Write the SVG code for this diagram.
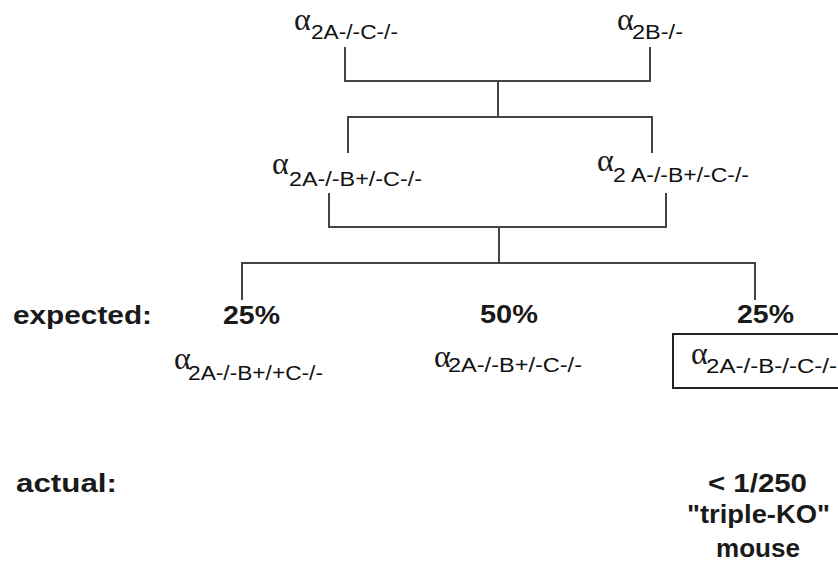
<svg xmlns="http://www.w3.org/2000/svg" width="838" height="570" viewBox="0 0 838 570">
<style>
.a{font-family:"Liberation Serif","DejaVu Serif",serif;font-size:32px;fill:#1a1a1a}
.s{font-family:"Liberation Sans",Arial,sans-serif;font-size:20px;fill:#111}
.b{font-family:"Liberation Sans",Arial,sans-serif;font-size:26px;font-weight:bold;fill:#1a1a1a}
.ln{fill:none;stroke:#444;stroke-width:2}
</style>
<rect width="838" height="570" fill="#fff"/>
<g id="connectors">
<path class="ln" d="M345,47V81H650V47M498,81V117M348,153V117H652V153"/>
<path class="ln" d="M329,193V227H666V193M499,227V263M242,300V263H755V300"/>
</g>
<g id="parent1"><text class="a" x="294" y="30">α</text><text class="s" x="311" y="39" textLength="87" lengthAdjust="spacingAndGlyphs">2A-/-C-/-</text></g>
<g id="parent2"><text class="a" x="617" y="30">α</text><text class="s" x="632" y="39" textLength="51" lengthAdjust="spacingAndGlyphs">2B-/-</text></g>
<g id="f1a"><text class="a" x="272" y="174">α</text><text class="s" x="289" y="186" textLength="133" lengthAdjust="spacingAndGlyphs">2A-/-B+/-C-/-</text></g>
<g id="f1b"><text class="a" x="597" y="171">α</text><text class="s" x="613" y="182" textLength="136" lengthAdjust="spacingAndGlyphs">2 A-/-B+/-C-/-</text></g>
<g id="labels">
<text class="b" x="13" y="324" textLength="139" lengthAdjust="spacingAndGlyphs">expected:</text>
<text class="b" x="16" y="492" textLength="101" lengthAdjust="spacingAndGlyphs">actual:</text>
</g>
<g id="g1"><text class="b" x="223" y="324" textLength="57" lengthAdjust="spacingAndGlyphs">25%</text><text class="a" x="174" y="369">α</text><text class="s" x="188" y="380" textLength="135" lengthAdjust="spacingAndGlyphs">2A-/-B+/+C-/-</text></g>
<g id="g2"><text class="b" x="480" y="323" textLength="58" lengthAdjust="spacingAndGlyphs">50%</text><text class="a" x="434" y="367">α</text><text class="s" x="448" y="372" textLength="134" lengthAdjust="spacingAndGlyphs">2A-/-B+/-C-/-</text></g>
<g id="g3"><text class="b" x="737" y="323" textLength="57" lengthAdjust="spacingAndGlyphs">25%</text><rect x="673" y="334" width="170" height="54" fill="none" stroke="#222" stroke-width="2"/><text class="a" x="691" y="364">α</text><text class="s" x="706" y="373" textLength="131" lengthAdjust="spacingAndGlyphs">2A-/-B-/-C-/-</text></g>
<g id="result"><text class="b" x="708" y="492" textLength="99" lengthAdjust="spacingAndGlyphs">&lt; 1/250</text><text class="b" x="687" y="523" textLength="143" lengthAdjust="spacingAndGlyphs">"triple-KO"</text><text class="b" x="716" y="557" textLength="84" lengthAdjust="spacingAndGlyphs">mouse</text></g>
</svg>
